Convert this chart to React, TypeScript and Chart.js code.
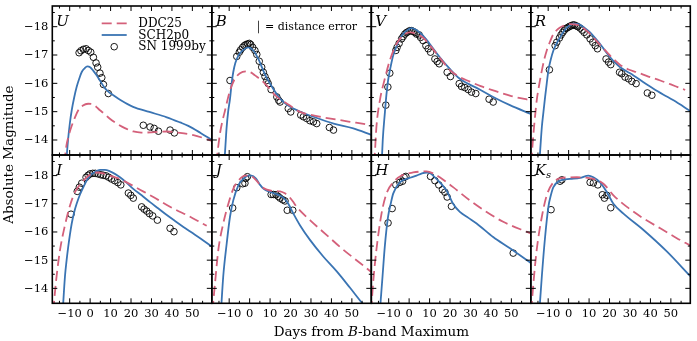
import { useEffect, useRef } from "react";
import { Chart, registerables } from "chart.js";

Chart.register(...registerables);

type P = [number, number];

// ---------- axes / ticks ----------
const X_MIN = -18.5;
const X_MAX = 59.5;
const Y_FAINT = -13.47;
const Y_BRIGHT = -18.73;
const X_TICKS = [-10, 0, 10, 20, 30, 40, 50];
const X_MINOR = [-15, -5, 5, 15, 25, 35, 45, 55];
const Y_TICKS = [-18, -17, -16, -15, -14];
const Y_MINOR = [-18.5, -17.5, -16.5, -15.5, -14.5];

const SERIES = ["DDC25", "SCH2p0", "SN 1999by"];
const BANDS = ["U", "B", "V", "R", "I", "J", "H", "Ks"];
const X_TITLE = ["Days from ", "B", "-band Maximum"];
const Y_TITLE = "Absolute Magnitude";
const NOTE = "= distance error";

// ---------- U ----------
const U_DDC25: P[] = [[-12.6,-13.2],[-11.6,-13.8],[-10.3,-14.2],[-9.0,-14.5],[-7.4,-14.8],[-5.8,-15.05],[-3.5,-15.22],[-1,-15.28],[1,-15.27],[3,-15.17],[4.8,-15.05],[7,-14.92],[9.5,-14.76],[13,-14.58],[17,-14.42],[21.1,-14.3],[25,-14.26],[30,-14.27],[37.5,-14.3],[44,-14.25],[50.5,-14.17],[55,-14.08],[59.5,-13.97]];
const U_SCH2P0: P[] = [[-11.7,-13.2],[-10.8,-14.0],[-9.9,-14.6],[-9.0,-15.05],[-7.8,-15.5],[-6.6,-15.87],[-5.3,-16.17],[-4.1,-16.4],[-2.7,-16.53],[-1.4,-16.6],[0,-16.57],[1.5,-16.45],[3,-16.3],[4.8,-16.1],[7,-15.85],[9,-15.7],[11.3,-15.58],[15,-15.4],[21,-15.17],[29,-14.99],[37.5,-14.8],[44,-14.62],[48,-14.5],[54,-14.25],[59.5,-14.0]];
const U_OBS: P[] = [[-5.4,-17.08],[-4.5,-17.15],[-3.3,-17.2],[-2.0,-17.22],[-0.9,-17.16],[0.3,-17.1],[1.6,-16.92],[2.9,-16.72],[3.7,-16.57],[4.8,-16.36],[5.7,-16.2],[6.5,-15.96],[8.9,-15.64],[26.0,-14.52],[29.3,-14.46],[31.3,-14.41],[33.4,-14.31],[39.1,-14.35],[41.2,-14.25]];

// ---------- B ----------
const B_DDC25: P[] = [[-16.3,-13.2],[-15.8,-13.5],[-14.5,-14.23],[-13.2,-14.7],[-12.0,-15.05],[-10.8,-15.42],[-9.6,-15.75],[-8.4,-15.98],[-7.2,-16.16],[-4.7,-16.36],[-1.4,-16.42],[1,-16.37],[2.6,-16.28],[5,-16.15],[7.5,-15.99],[10,-15.79],[12.4,-15.58],[15,-15.43],[18.1,-15.29],[21,-15.15],[24.6,-14.99],[29,-14.9],[34.4,-14.82],[44.2,-14.7],[52,-14.61],[59.5,-14.52]];
const B_SCH2P0: P[] = [[-12.4,-13.2],[-12.0,-13.6],[-11.3,-14.4],[-10.5,-15.0],[-9.6,-15.45],[-8.8,-16.0],[-8.0,-16.4],[-7.0,-16.72],[-5.5,-16.98],[-3.1,-17.18],[-0.6,-17.27],[1.8,-17.16],[4.25,-16.86],[6.7,-16.45],[8.3,-16.2],[10.0,-15.99],[12.5,-15.7],[14.9,-15.46],[18,-15.26],[21.4,-15.11],[26,-14.96],[31.2,-14.82],[41.1,-14.58],[50.7,-14.41],[59.5,-14.18]];
const B_OBS: P[] = [[-9.6,-16.1],[-6.3,-16.95],[-5.05,-17.1],[-4.4,-17.18],[-3.4,-17.27],[-2.6,-17.33],[-1.8,-17.37],[-0.94,-17.39],[-0.15,-17.41],[0.53,-17.37],[1.5,-17.27],[2.6,-17.16],[3.5,-17.02],[4.7,-16.78],[5.9,-16.57],[6.7,-16.39],[7.5,-16.24],[8.4,-16.1],[9.1,-15.99],[10.5,-15.78],[13.3,-15.52],[14.2,-15.4],[14.9,-15.34],[18.9,-15.11],[20.1,-14.99],[25.0,-14.88],[26.3,-14.82],[27.9,-14.76],[29.5,-14.68],[31.2,-14.64],[32.8,-14.58],[39.0,-14.44],[41.0,-14.35]];

// ---------- V ----------
const V_DDC25: P[] = [[-17.2,-13.2],[-16.8,-13.5],[-16.0,-14.46],[-14.3,-15.4],[-11.9,-16.16],[-9.45,-16.81],[-7.0,-17.27],[-4.56,-17.57],[-2,-17.74],[0.5,-17.8],[3.6,-17.74],[7,-17.6],[10.1,-17.35],[15,-16.9],[20,-16.47],[24,-16.25],[29.7,-16.06],[35,-15.9],[41.1,-15.75],[50,-15.55],[59.5,-15.4]];
const V_SCH2P0: P[] = [[-13.4,-13.2],[-12.9,-14.0],[-11.9,-14.93],[-11.1,-15.6],[-10.3,-16.1],[-9.0,-16.6],[-7.8,-16.98],[-6.2,-17.3],[-4.56,-17.57],[-2.9,-17.75],[-1.3,-17.86],[1.17,-17.95],[3.6,-17.88],[6.8,-17.68],[10.1,-17.39],[15.0,-16.92],[19.9,-16.51],[24.8,-16.16],[29,-15.98],[33.0,-15.84],[41.1,-15.52],[49.3,-15.23],[59.5,-14.92]];
const V_OBS: P[] = [[-11.4,-15.23],[-10.4,-15.87],[-9.45,-16.36],[-6.5,-17.16],[-5.9,-17.27],[-4.9,-17.41],[-3.7,-17.57],[-2.94,-17.65],[-2.1,-17.74],[-1.3,-17.79],[-0.5,-17.82],[0.34,-17.86],[1.17,-17.86],[1.95,-17.83],[2.8,-17.8],[3.6,-17.74],[4.9,-17.71],[5.6,-17.62],[6.8,-17.51],[8.2,-17.33],[9.3,-17.22],[10.46,-17.1],[12.6,-16.86],[13.7,-16.77],[14.7,-16.69],[18.6,-16.39],[20.2,-16.24],[24.5,-15.99],[25.6,-15.89],[27.2,-15.85],[28.9,-15.78],[30.5,-15.69],[32.6,-15.64],[39.1,-15.44],[41.1,-15.34]];

// ---------- R ----------
const R_DDC25: P[] = [[-18.3,-13.2],[-17.2,-14.23],[-16.4,-14.85],[-15.6,-15.4],[-14.4,-15.95],[-13.1,-16.45],[-11.9,-16.85],[-10.7,-17.16],[-9.1,-17.47],[-7.45,-17.74],[-5.8,-17.88],[-4.2,-17.97],[-1.8,-18.05],[0.7,-18.09],[3,-18.08],[5.6,-18.03],[8.9,-17.85],[12.1,-17.62],[15.4,-17.36],[18.7,-17.1],[21.9,-16.86],[25.2,-16.65],[29.3,-16.49],[33.4,-16.39],[39,-16.24],[44.8,-16.1],[50,-15.96],[55.4,-15.81],[57,-15.77]];
const R_SCH2P0: P[] = [[-14.3,-13.2],[-13.1,-14.46],[-12.3,-15.0],[-11.5,-15.52],[-10.7,-16.0],[-9.9,-16.45],[-8.7,-16.85],[-7.45,-17.16],[-5.8,-17.42],[-4.2,-17.62],[-2.5,-17.82],[-0.9,-17.97],[0.8,-18.06],[2.34,-18.11],[4,-18.1],[5.6,-18.07],[8,-17.95],[10.5,-17.8],[13,-17.6],[15.4,-17.39],[17.8,-17.15],[20.3,-16.92],[22.7,-16.73],[25.2,-16.57],[28.5,-16.42],[31.7,-16.28],[36.6,-16.04],[41.5,-15.81],[46.4,-15.6],[51.3,-15.4],[59.5,-15.02]];
const R_OBS: P[] = [[-9.4,-16.48],[-6.6,-17.33],[-5.8,-17.45],[-4.5,-17.6],[-3.7,-17.71],[-2.85,-17.8],[-2.06,-17.88],[-1.23,-17.94],[-0.4,-17.97],[0.4,-18.01],[1.2,-18.03],[2.0,-18.06],[2.8,-18.06],[3.7,-18.03],[4.5,-18.0],[5.6,-17.95],[6.6,-17.88],[7.6,-17.8],[8.9,-17.71],[10.5,-17.57],[11.8,-17.45],[13.0,-17.33],[14.1,-17.22],[18.3,-16.86],[19.5,-16.75],[20.6,-16.66],[24.9,-16.39],[26.0,-16.34],[27.6,-16.22],[29.3,-16.16],[30.9,-16.07],[33.0,-15.99],[38.5,-15.66],[40.7,-15.58]];

// ---------- I ----------
const I_DDC25: P[] = [[-18.0,-13.2],[-17.7,-13.47],[-16.4,-14.43],[-14.7,-15.37],[-12.3,-16.24],[-9.8,-16.95],[-7.4,-17.41],[-4.1,-17.76],[-0.06,-18.03],[3.2,-18.11],[6.5,-18.08],[9.7,-18.0],[13.8,-17.9],[17.9,-17.76],[24.4,-17.5],[30.9,-17.24],[35.8,-17.03],[40.7,-16.83],[48.9,-16.54],[55.4,-16.28],[57,-16.22]];
const I_SCH2P0: P[] = [[-13.4,-13.2],[-12.3,-14.43],[-11.5,-15.0],[-10.7,-15.48],[-9.9,-15.9],[-9.0,-16.3],[-7.8,-16.7],[-6.6,-17.0],[-5.0,-17.32],[-3.3,-17.59],[-1.7,-17.82],[-0.06,-18.0],[2.4,-18.13],[4.8,-18.2],[7.2,-18.2],[9.7,-18.15],[12.1,-18.06],[14.6,-17.94],[17.8,-17.75],[21.1,-17.53],[25.2,-17.3],[29.3,-17.06],[33.4,-16.83],[37.5,-16.6],[41.5,-16.39],[45.6,-16.18],[49.7,-15.98],[53.8,-15.78],[59.5,-15.48]];
const I_OBS: P[] = [[-9.35,-16.63],[-6.3,-17.44],[-5.3,-17.59],[-4.1,-17.73],[-2.0,-17.94],[-1.0,-18.01],[-0.06,-18.06],[1.3,-18.08],[2.5,-18.08],[3.86,-18.06],[5.2,-18.03],[6.45,-18.01],[7.8,-17.99],[9.1,-17.94],[10.4,-17.88],[12.0,-17.82],[13.6,-17.75],[15.0,-17.67],[18.7,-17.38],[19.9,-17.3],[21.1,-17.2],[25.2,-16.89],[26.4,-16.81],[27.7,-16.74],[29.0,-16.65],[30.6,-16.57],[32.9,-16.42],[39.1,-16.13],[41.0,-16.01]];

// ---------- J ----------
const J_DDC25: P[] = [[-18.2,-13.2],[-16.9,-14.2],[-15.3,-15.37],[-12.9,-16.3],[-10.4,-17.0],[-8.0,-17.53],[-5.5,-17.82],[-2.3,-18.0],[0.2,-18.0],[3,-17.85],[6,-17.6],[8.4,-17.5],[11,-17.46],[14.9,-17.44],[17,-17.38],[18.9,-17.28],[21,-17.1],[23.0,-16.89],[29.5,-16.42],[37.7,-15.89],[45.8,-15.37],[54.0,-14.9],[59.5,-14.58]];
const J_SCH2P0: P[] = [[-14.0,-13.2],[-12.9,-14.43],[-11.2,-15.6],[-9.6,-16.54],[-8.0,-17.12],[-5.5,-17.65],[-3.1,-17.88],[-0.64,-18.0],[1.0,-18.0],[3.0,-17.9],[5.0,-17.68],[7.0,-17.52],[10,-17.42],[13.2,-17.34],[16.5,-17.22],[18.9,-17.0],[21.4,-16.65],[24.6,-16.24],[29.5,-15.72],[36.0,-15.13],[42.6,-14.6],[49.1,-14.02],[54.8,-13.5],[56,-13.4]];
const J_OBS: P[] = [[-8.3,-16.85],[-6.3,-17.57],[-3.4,-17.71],[-2.3,-17.73],[-1.9,-17.9],[-1.1,-17.96],[10.5,-17.33],[11.6,-17.33],[12.9,-17.32],[14.0,-17.26],[14.9,-17.2],[16.2,-17.14],[17.3,-17.1],[18.4,-16.77],[21.1,-16.77]];

// ---------- H ----------
const H_DDC25: P[] = [[-18.6,-13.2],[-17.6,-14.2],[-16.0,-15.37],[-13.5,-16.65],[-11.1,-17.36],[-7.8,-17.76],[-3.7,-18.0],[1.95,-18.11],[8.5,-18.15],[12,-18.07],[15.0,-17.94],[21.5,-17.59],[29.7,-17.12],[37.9,-16.71],[46.0,-16.36],[57.4,-16.01],[59.5,-15.95]];
const H_SCH2P0: P[] = [[-14.3,-13.2],[-13.0,-14.43],[-11.9,-15.48],[-10.3,-16.54],[-9.0,-17.0],[-7.8,-17.36],[-4.56,-17.76],[-0.5,-17.9],[3.6,-18.0],[6,-18.07],[8.5,-18.11],[10,-18.1],[11.7,-18.0],[15.0,-17.76],[18.3,-17.47],[21.5,-17.0],[24.8,-16.71],[29,-16.5],[33.0,-16.3],[41.1,-15.82],[49.3,-15.42],[59.5,-14.9]];
const H_OBS: P[] = [[-10.3,-16.32],[-8.3,-16.83],[-6.5,-17.67],[-4.56,-17.76],[-3.2,-17.8],[-2.45,-17.94],[-1.6,-17.97],[10.46,-17.97],[12.6,-17.82],[14.5,-17.67],[16.3,-17.5],[17.5,-17.41],[18.6,-17.24],[20.7,-16.91],[50.9,-15.25]];

// ---------- Ks ----------
const K_DDC25: P[] = [[-18.3,-13.2],[-17.2,-14.2],[-15.6,-15.37],[-13.1,-16.54],[-10.7,-17.3],[-7.45,-17.76],[-3.3,-17.92],[4.0,-17.94],[12.1,-17.88],[17.0,-17.71],[21.9,-17.3],[28.5,-16.89],[36.6,-16.48],[44.8,-16.13],[52.9,-15.78],[59.5,-15.52]];
const K_SCH2P0: P[] = [[-14.3,-13.2],[-13.1,-14.43],[-11.5,-15.83],[-9.9,-16.89],[-8.7,-17.3],[-7.45,-17.59],[-4.2,-17.82],[0.7,-17.88],[5.6,-17.92],[9.7,-18.0],[12.1,-17.94],[15.4,-17.76],[18.7,-17.41],[21.9,-17.0],[26.8,-16.65],[36.6,-16.07],[48.0,-15.31],[59.5,-14.43]];
const K_OBS: P[] = [[-8.6,-16.79],[-4.2,-17.8],[-3.3,-17.85],[10.5,-17.76],[12.1,-17.74],[14.3,-17.67],[16.5,-17.32],[17.5,-17.2],[18.7,-17.3],[20.6,-16.86]];

const DDC25_ALL = [U_DDC25, B_DDC25, V_DDC25, R_DDC25, I_DDC25, J_DDC25, H_DDC25, K_DDC25];
const SCH_ALL = [U_SCH2P0, B_SCH2P0, V_SCH2P0, R_SCH2P0, I_SCH2P0, J_SCH2P0, H_SCH2P0, K_SCH2P0];
const OBS_ALL = [U_OBS, B_OBS, V_OBS, R_OBS, I_OBS, J_OBS, H_OBS, K_OBS];

// ---------- layout / style ----------
const W = 697;
const H = 341;
const COL_X = [52.3, 211.8, 371.3, 530.8, 690.3];
const ROW_Y = [6, 155, 303.3];
const RED = "#d4607a";
const BLUE = "#3a74b3";
const DASH = [10, 5];
const FONT = '"DejaVu Serif", serif';

const fmt = (v: number) => (v < 0 ? "\u2212" + Math.abs(v) : String(v));
const toXY = (arr: P[]) => arr.map(([x, y]) => ({ x, y }));

function makePlugin(i: number) {
  const col = i % 4;
  const row = Math.floor(i / 4);
  return {
    id: "panel" + i,
    afterDraw(chart: any) {
      const { ctx, chartArea: a } = chart;
      const xs = chart.scales.x;
      const ys = chart.scales.y;
      ctx.save();
      ctx.strokeStyle = "#000";
      ctx.fillStyle = "#000";
      ctx.lineWidth = 1;
      const seg = (x1: number, y1: number, x2: number, y2: number) => {
        ctx.beginPath();
        ctx.moveTo(x1, y1);
        ctx.lineTo(x2, y2);
        ctx.stroke();
      };
      const MAJ = 5;
      const MIN = 2.5;
      for (const v of X_TICKS) {
        const px = xs.getPixelForValue(v);
        seg(px, a.bottom, px, a.bottom - MAJ);
        seg(px, a.top, px, a.top + MAJ);
      }
      for (const v of X_MINOR) {
        const px = xs.getPixelForValue(v);
        seg(px, a.bottom, px, a.bottom - MIN);
        seg(px, a.top, px, a.top + MIN);
      }
      for (const v of Y_TICKS) {
        const py = ys.getPixelForValue(v);
        seg(a.left, py, a.left + MAJ, py);
        seg(a.right, py, a.right - MAJ, py);
      }
      for (const v of Y_MINOR) {
        const py = ys.getPixelForValue(v);
        seg(a.left, py, a.left + MIN, py);
        seg(a.right, py, a.right - MIN, py);
      }
      ctx.lineWidth = 1.6;
      ctx.strokeRect(a.left, a.top, a.right - a.left, a.bottom - a.top);

      // tick labels
      ctx.font = "11.5px " + FONT;
      if (col === 0) {
        ctx.textAlign = "right";
        ctx.textBaseline = "middle";
        for (const v of Y_TICKS) ctx.fillText(fmt(v), a.left - 4, ys.getPixelForValue(v) + 0.5);
      }
      if (row === 1) {
        ctx.textAlign = "center";
        ctx.textBaseline = "alphabetic";
        for (const v of X_TICKS) ctx.fillText(fmt(v), xs.getPixelForValue(v), a.bottom + 14);
      }

      // band letter
      ctx.textAlign = "left";
      ctx.textBaseline = "alphabetic";
      ctx.font = "italic 15px " + FONT;
      const band = BANDS[i];
      if (band === "Ks") {
        ctx.fillText("K", a.left + 4, a.top + 20);
        const w = ctx.measureText("K").width;
        ctx.font = "italic 10px " + FONT;
        ctx.fillText("s", a.left + 4 + w, a.top + 23);
      } else {
        ctx.fillText(band, a.left + 4, a.top + 20);
      }

      if (i === 0) {
        // legend
        const lx0 = 101.7;
        const lx1 = 126.7;
        const tx = 138.3;
        const rows = [23.3, 35, 46.7];
        ctx.lineWidth = 1.8;
        ctx.strokeStyle = RED;
        ctx.setLineDash(DASH);
        seg(lx0, rows[0], lx1, rows[0]);
        ctx.setLineDash([]);
        ctx.strokeStyle = BLUE;
        seg(lx0, rows[1], lx1, rows[1]);
        ctx.strokeStyle = "#000";
        ctx.lineWidth = 0.9;
        ctx.beginPath();
        ctx.arc((lx0 + lx1) / 2, rows[2], 3.3, 0, Math.PI * 2);
        ctx.stroke();
        ctx.font = "12px " + FONT;
        ctx.textBaseline = "middle";
        SERIES.forEach((s, k) => ctx.fillText(s, tx, rows[k] + 0.5));

        // axis titles
        ctx.font = "13.5px " + FONT;
        ctx.textBaseline = "alphabetic";
        ctx.save();
        ctx.translate(13.2, (ROW_Y[0] + ROW_Y[2]) / 2);
        ctx.rotate(-Math.PI / 2);
        ctx.textAlign = "center";
        ctx.fillText(Y_TITLE, 0, 0);
        ctx.restore();

        ctx.textAlign = "left";
        const fonts = ["13.5px " + FONT, "italic 13.5px " + FONT, "13.5px " + FONT];
        const widths = X_TITLE.map((t, k) => {
          ctx.font = fonts[k];
          return ctx.measureText(t).width;
        });
        let x = (COL_X[0] + COL_X[4]) / 2 - widths.reduce((s, w) => s + w, 0) / 2;
        X_TITLE.forEach((t, k) => {
          ctx.font = fonts[k];
          ctx.fillText(t, x, 336);
          x += widths[k];
        });
      }
      if (i === 1) {
        ctx.strokeStyle = "#444";
        ctx.lineWidth = 1;
        seg(258.5, 20.7, 258.5, 33.3);
        ctx.font = "11px " + FONT;
        ctx.textBaseline = "middle";
        ctx.textAlign = "left";
        ctx.fillText(NOTE, 265, 27);
      }
      ctx.restore();
    },
  };
}

function makeConfig(i: number): any {
  const col = i % 4;
  const row = Math.floor(i / 4);
  return {
    type: "line",
    data: {
      datasets: [
        {
          label: SERIES[0],
          data: toXY(DDC25_ALL[i]),
          borderColor: RED,
          borderWidth: 1.8,
          borderDash: DASH,
          pointRadius: 0,
          cubicInterpolationMode: "monotone",
          fill: false,
          clip: 0,
        },
        {
          label: SERIES[1],
          data: toXY(SCH_ALL[i]),
          borderColor: BLUE,
          borderWidth: 1.8,
          pointRadius: 0,
          cubicInterpolationMode: "monotone",
          fill: false,
          clip: 0,
        },
        {
          label: SERIES[2],
          data: toXY(OBS_ALL[i]),
          showLine: false,
          pointRadius: 3.3,
          pointBorderWidth: 0.9,
          pointBorderColor: "#000",
          pointBackgroundColor: "rgba(0,0,0,0)",
          clip: 0,
        },
      ],
    },
    options: {
      responsive: false,
      animation: false,
      devicePixelRatio: 1,
      events: [],
      layout: {
        padding: {
          left: COL_X[col],
          right: W - COL_X[col + 1],
          top: ROW_Y[row],
          bottom: H - ROW_Y[row + 1],
        },
      },
      scales: {
        x: { type: "linear", min: X_MIN, max: X_MAX, display: false },
        y: { type: "linear", min: Y_BRIGHT, max: Y_FAINT, reverse: true, display: false },
      },
      plugins: { legend: { display: false }, tooltip: { enabled: false } },
    },
    plugins: [makePlugin(i)],
  };
}

export default function App() {
  const refs = useRef<(HTMLCanvasElement | null)[]>([]);
  useEffect(() => {
    const charts = BANDS.map((_, i) => new Chart(refs.current[i] as HTMLCanvasElement, makeConfig(i)));
    return () => charts.forEach((c) => c.destroy());
  }, []);
  return (
    <div style={{ position: "absolute", left: 0, top: 0, width: W, height: H, background: "#fff" }}>
      {BANDS.map((b, i) => (
        <canvas
          key={b}
          ref={(el) => {
            refs.current[i] = el;
          }}
          width={W}
          height={H}
          style={{ position: "absolute", left: 0, top: 0, width: W, height: H }}
        />
      ))}
    </div>
  );
}
